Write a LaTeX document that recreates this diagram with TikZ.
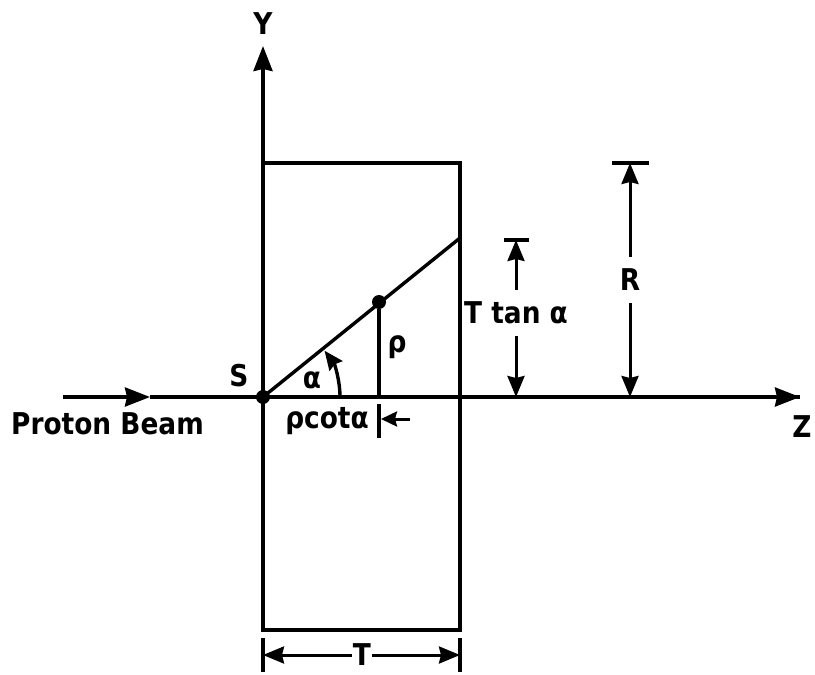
\documentclass[tikz,border=0pt]{standalone}
\usepackage{fontspec}
\setmainfont[FakeStretch=0.88]{DejaVu Sans}
\usetikzlibrary{arrows.meta}
\begin{document}
\begin{tikzpicture}[x=1pt,y=-1pt,
  ln/.style={line width=3.4pt},
  dim/.style={line width=3pt},
  tip/.style={-{Stealth[length=25pt,width=19pt,inset=2pt]}},
  stip/.style={-{Stealth[length=21pt,width=17pt,inset=2pt]}},
  lbl/.style={font=\fontsize{30}{30}\selectfont\bfseries, inner sep=1pt},
  dot/.style={circle,fill=black,minimum size=14pt,inner sep=0pt}]
\useasboundingbox (0,0) rectangle (815,675);
% coordinates
\coordinate (O) at (263,397);
\coordinate (Ytop) at (263,46);
\coordinate (Zstart) at (63,397);
\coordinate (Zmid) at (150,397);
\coordinate (Zend) at (800,397);
\coordinate (Lend) at (460,238);
\coordinate (Pfoot) at (379,397);
% box
\draw[ln] (263,163) rectangle (460,630);
% axes
\draw[ln,tip] (O) -- (Ytop);
\draw[ln,tip] (Zstart) -- (Zmid);
\draw[ln] (Zmid) -- (Zend);
\draw[ln,tip] (700,397) -- (Zend);
% line and point
\draw[ln] (O) -- (Lend);
\node[dot] (S) at (O) {};
\node[dot] (P) at (379,302) {};
\draw[ln] (P) -- (Pfoot);
% angle arc
\draw[ln,-{Stealth[length=19pt,width=16pt,inset=2pt]}] (O) ++(0:77) arc[start angle=0,end angle=-37,radius=77];
% labels
\node[lbl] (Ylbl) at (263,24) {Y};
\node[lbl] (Zlbl) at (802,427) {Z};
\node[lbl] (Slbl) at (239,376) {S};
\node[lbl] (albl) at (312,380) {α};
\node[lbl] (rholbl) at (397,347) {ρ};
\node[lbl,anchor=west] (beam) at (10,424) {Proton Beam};
\node[lbl] (cot) at (327,421) {ρcotα};
% rho cot alpha marker
\coordinate (ct) at (379,404);
\coordinate (cb) at (379,438);
\draw[ln] (ct) -- (cb);
\coordinate (cs) at (410,419);
\coordinate (ce) at (381,419);
\draw[dim,-{Stealth[length=16pt,width=15pt,inset=2pt]}] (cs) -- (ce);
% T tan alpha dimension
\draw[ln] (504,240) -- (529,240);
\node[lbl] (ttan) at (516,313) {T tan α};
\draw[dim,stip] (516,290) -- (516,240);
\draw[dim,stip] (516,336) -- (516,397);
% R dimension
\draw[ln] (612,163) -- (649,163);
\node[lbl] (R) at (630,280) {R};
\draw[dim,stip] (630,257) -- (630,163);
\draw[dim,stip] (630,303) -- (630,397);
% T dimension
\draw[ln] (263,638) -- (263,672);
\draw[ln] (460,638) -- (460,672);
\node[lbl] (Tlbl) at (362,655) {T};
\draw[dim,stip] (Tlbl.west) -- (263,655);
\draw[dim,stip] (Tlbl.east) -- (460,655);
\end{tikzpicture}
\end{document}
